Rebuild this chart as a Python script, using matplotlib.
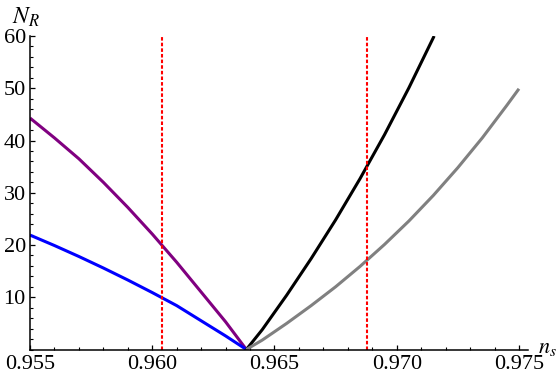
import matplotlib
matplotlib.use("Agg")
import matplotlib.pyplot as plt
from matplotlib.ticker import MultipleLocator, FixedLocator

plt.rcParams["font.family"] = ["Liberation Serif", "DejaVu Serif"]
plt.rcParams["mathtext.fontset"] = "stix"

# values
purple_ns = [0.955, 0.956, 0.957, 0.958, 0.959, 0.960, 0.961, 0.962, 0.963, 0.96385]
purple_N = [44.3, 40.5, 36.5, 32.0, 27.2, 22.1, 16.7, 11.0, 5.3, 0.0]

blue_ns = [0.955, 0.956, 0.957, 0.958, 0.959, 0.960, 0.961, 0.962, 0.963, 0.96385]
blue_N = [21.9, 19.9, 17.8, 15.6, 13.3, 10.9, 8.4, 5.5, 2.6, 0.0]

black_ns = [0.96385, 0.9645, 0.9655, 0.9665, 0.9675, 0.9685, 0.9695, 0.9705, 0.9715, 0.97153]
black_N = [0.0, 3.8, 10.4, 17.4, 24.8, 32.7, 41.1, 50.1, 59.7, 60.0]

gray_ns = [0.96385, 0.9645, 0.9655, 0.9665, 0.9675, 0.9685, 0.9695,
           0.9705, 0.9715, 0.9725, 0.9735, 0.9745, 0.9750]
gray_N = [0.0, 1.8, 5.0, 8.4, 12.0, 15.9, 20.1, 24.6, 29.5, 34.8, 40.5, 46.7, 49.9]

red_lines = [0.9604, 0.9688]

x_ticks = [0.955, 0.960, 0.965, 0.970, 0.975]
x_labels = ["0.955", "0.960", "0.965", "0.970", "0.975"]
y_ticks = [10, 20, 30, 40, 50, 60]


def main():
    W, H = 559, 384
    fig = plt.figure(figsize=(W / 100, H / 100), dpi=100)
    left, right, top, bottom = 30, 528, 36, 349.5
    ax = fig.add_axes([left / W, 1 - bottom / H, (right - left) / W, (bottom - top) / H])

    ax.set_xlim(0.955, 0.97537)
    ax.set_ylim(0, 60)

    lw = 2.2
    ax.plot(purple_ns, purple_N, color="#800080", lw=lw, solid_capstyle="butt")
    ax.plot(blue_ns, blue_N, color="#0000ff", lw=lw, solid_capstyle="butt")
    ax.plot(black_ns, black_N, color="black", lw=lw, solid_capstyle="butt")
    ax.plot(gray_ns, gray_N, color="#808080", lw=lw, solid_capstyle="butt")

    for xv in red_lines:
        ax.axvline(xv, color="#ff0000", lw=1.5, linestyle=(0, (1.7, 1.0)))

    for s in ["top", "right"]:
        ax.spines[s].set_visible(False)
    for s in ["left", "bottom"]:
        ax.spines[s].set_linewidth(1.1)

    ax.xaxis.set_major_locator(FixedLocator(x_ticks))
    ax.set_xticklabels(x_labels)
    ax.xaxis.set_minor_locator(MultipleLocator(0.001))
    ax.yaxis.set_major_locator(FixedLocator(y_ticks))
    ax.yaxis.set_minor_locator(MultipleLocator(2))

    ax.tick_params(which="major", direction="in", length=3.6, width=0.9,
                   labelsize=16)
    ax.tick_params(which="minor", direction="in", length=1.9, width=0.8)
    ax.tick_params(axis="x", pad=4)
    ax.tick_params(axis="y", pad=3)

    fig.text(12 / W, 1 - 17 / H, r"$N_R$", fontsize=17, ha="left", va="center")
    fig.text(538 / W, 1 - 349 / H, r"$n_s$", fontsize=16, ha="left", va="center")

    fig.savefig("out.png", dpi=100)
    plt.close(fig)


if __name__ == "__main__":
    main()
